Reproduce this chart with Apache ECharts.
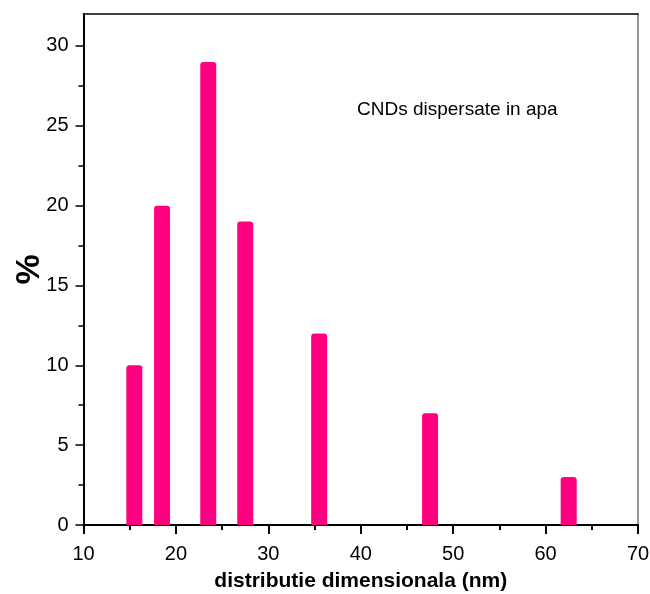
<!DOCTYPE html>
<html>
<head>
<meta charset="utf-8">
<script src="https://cdn.jsdelivr.net/npm/echarts@6/dist/echarts.min.js"></script>
<style>
html,body{margin:0;padding:0;background:#fff;}
#c{width:650px;height:594px;}
</style>
</head>
<body>
<div id="c"></div>
<script>
// Data
var sizes = [15.5, 18.5, 23.5, 27.5, 35.5, 47.5, 62.5];   // distributie dimensionala (nm)
var percents = [10, 20, 29, 19, 12, 7, 3];                 // %
var yTicks = [0, 5, 10, 15, 20, 25, 30];
var yMinorTicks = [2.5, 7.5, 12.5, 17.5, 22.5, 27.5];
var annotation = 'CNDs dispersate in apa';
var xName = 'distributie dimensionala (nm)';
var yName = '%';

var FONT = 'Liberation Sans, Arial, sans-serif';
var chart = echarts.init(document.getElementById('c'), null, {renderer: 'canvas'});

var barData = sizes.map(function (x, i) { return [x, percents[i]]; });

chart.setOption({
  animation: false,
  backgroundColor: '#ffffff',
  grid: {left: 83.5, right: 12, top: 14, bottom: 69, containLabel: false, outerBoundsMode: 'none'},
  xAxis: [{
    type: 'value', min: 10, max: 70, interval: 10, position: 'bottom',
    name: xName, nameLocation: 'middle', nameGap: 46,
    nameTextStyle: {fontFamily: FONT, fontSize: 21, fontWeight: 'bold', color: '#000'},
    axisLine: {show: true, onZero: false, lineStyle: {color: '#000', width: 2}},
    axisTick: {show: true, inside: false, length: 9, lineStyle: {color: '#000', width: 2}},
    minorTick: {show: true, splitNumber: 2, length: 5, lineStyle: {color: '#000', width: 2}},
    axisLabel: {fontFamily: FONT, fontSize: 20, color: '#000', margin: 19},
    splitLine: {show: false}, minorSplitLine: {show: false}
  }, {
    type: 'value', min: 10, max: 70, position: 'top',
    axisLine: {show: true, onZero: false, lineStyle: {color: '#000', width: 1.5}},
    axisTick: {show: false}, axisLabel: {show: false}, splitLine: {show: false}
  }],
  yAxis: [{
    type: 'value', min: 0, max: 32, position: 'left',
    name: yName, nameLocation: 'middle', nameGap: 37, nameRotate: 90, nameMoveOverlap: false,
    nameTextStyle: {fontFamily: FONT, fontSize: 34, fontWeight: 'bold', color: '#000'},
    axisLine: {show: true, onZero: false, lineStyle: {color: '#000', width: 2}},
    axisTick: {show: true, inside: false, length: 8, customValues: yTicks, lineStyle: {color: '#000', width: 1.5}},
    axisLabel: {fontFamily: FONT, fontSize: 20, color: '#000', margin: 15, customValues: yTicks},
    splitLine: {show: false}
  }, {
    type: 'value', min: 0, max: 32, position: 'left',
    axisLine: {show: false},
    axisTick: {show: true, inside: false, length: 5, customValues: yMinorTicks, lineStyle: {color: '#000', width: 1.5}},
    axisLabel: {show: false, customValues: yMinorTicks},
    splitLine: {show: false}
  }, {
    type: 'value', min: 0, max: 32, position: 'right',
    axisLine: {show: true, onZero: false, lineStyle: {color: '#777', width: 1.5}},
    axisTick: {show: false}, axisLabel: {show: false}, splitLine: {show: false}
  }],
  series: [{
    type: 'bar',
    xAxisIndex: 0, yAxisIndex: 0,
    data: barData,
    barWidth: 16,
    itemStyle: {color: '#FF0080', borderRadius: [3, 3, 0, 0]}
  }],
  graphic: [{
    type: 'text', left: 357, top: 100,
    style: {text: annotation, font: '19px ' + FONT, fill: '#000'}
  }]
});
</script>
</body>
</html>
